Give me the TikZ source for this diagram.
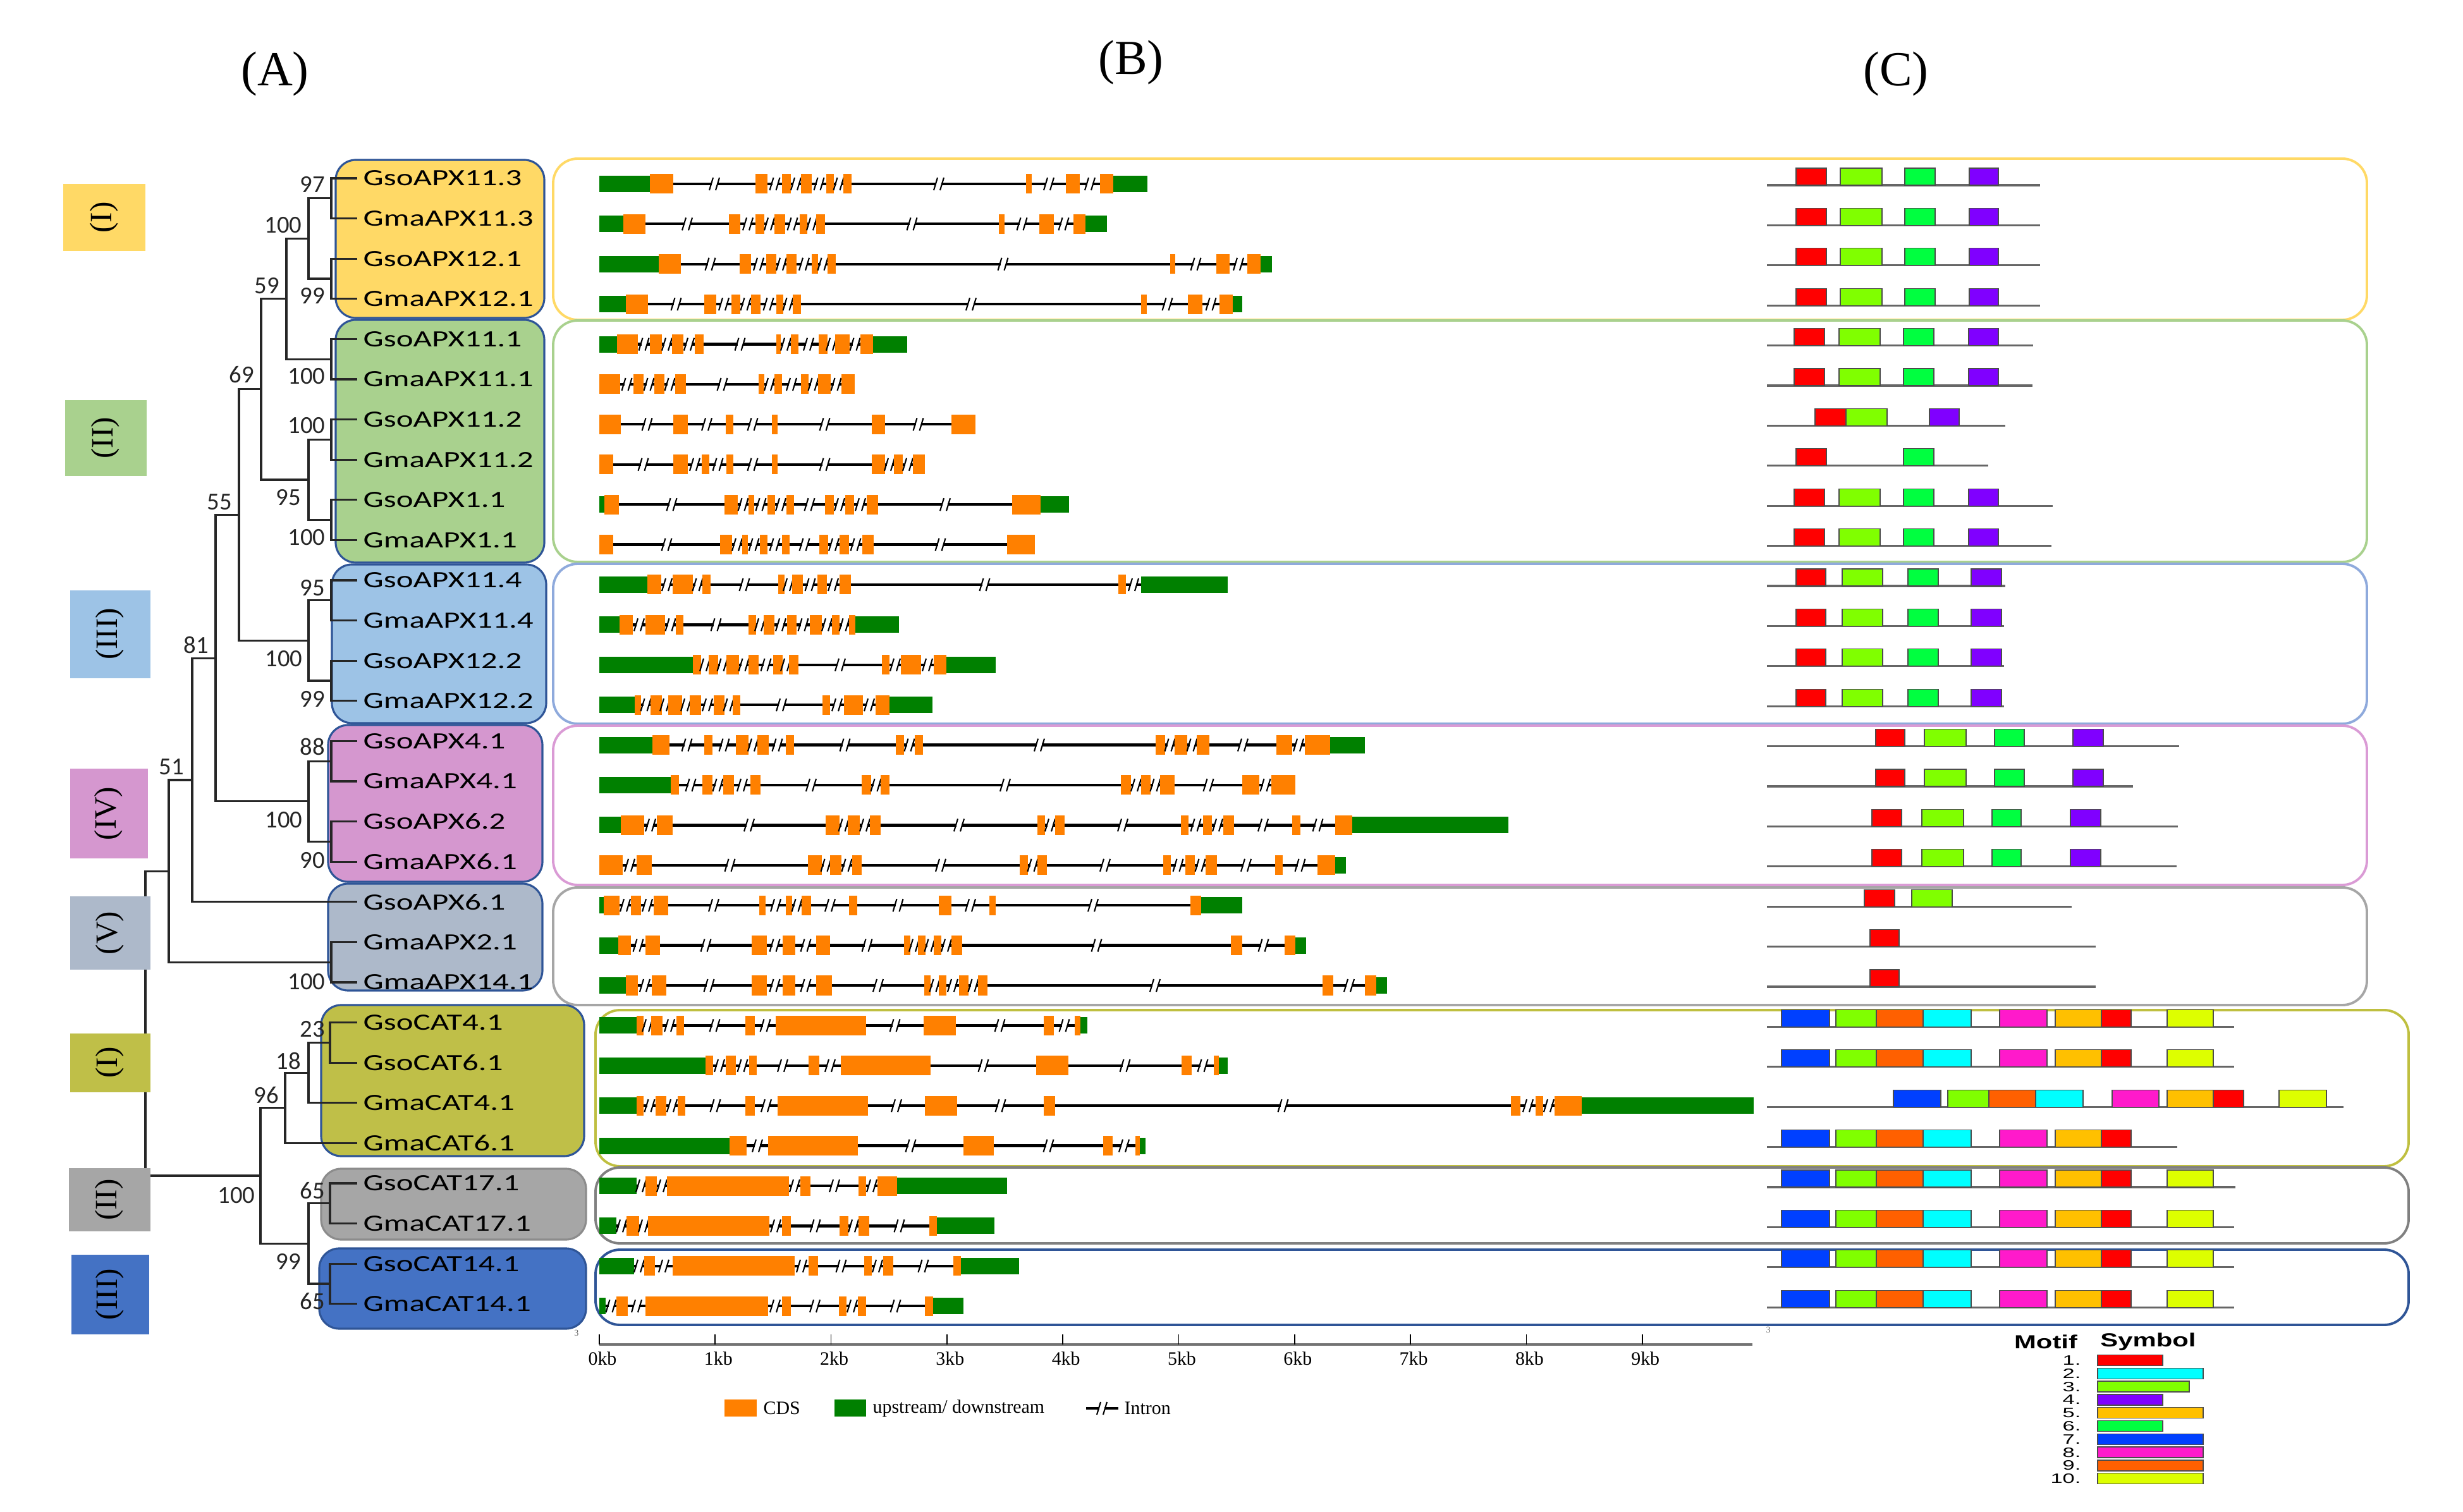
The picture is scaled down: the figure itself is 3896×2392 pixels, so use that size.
\documentclass[tikz,border=0pt]{standalone}
\usepackage{fontspec}
\setmainfont{Liberation Serif}
\newfontfamily\carlito{Carlito}
\newfontfamily\arialfont{Liberation Sans}
\usetikzlibrary{calc}

% clade colours
\definecolor{clyellow}{HTML}{FFD966}
\definecolor{clgreen}{HTML}{A9D18E}
\definecolor{clblue}{HTML}{9DC3E6}
\definecolor{clpink}{HTML}{D597CF}
\definecolor{clslate}{HTML}{ADB9CA}
\definecolor{clolive}{HTML}{BFBF48}
\definecolor{clgray}{HTML}{A6A6A6}
\definecolor{clroyal}{HTML}{4472C4}
\definecolor{boxedge}{HTML}{2F5597}
\definecolor{pnblue}{HTML}{8FAADC}
\definecolor{pnpink}{HTML}{DA9BD5}
\definecolor{pnolive}{HTML}{BFBF40}
\definecolor{cdsorange}{HTML}{FF8000}
\definecolor{utrgreen}{HTML}{008000}
% motif colours
\definecolor{m1}{HTML}{FF0000}
\definecolor{m2}{HTML}{00FFFF}
\definecolor{m3}{HTML}{80FF00}
\definecolor{m4}{HTML}{8000FF}
\definecolor{m5}{HTML}{FFC000}
\definecolor{m6}{HTML}{00FF40}
\definecolor{m7}{HTML}{0040FF}
\definecolor{m8}{HTML}{FF1ACB}
\definecolor{m9}{HTML}{FF6000}
\definecolor{m10}{HTML}{DDFF00}

\tikzset{
  treeline/.style={line width=0.9pt, black!85},
  intron/.style={line width=1.2pt, black},
  slash/.style={line width=0.6pt, black},
  exon c/.style={fill=cdsorange},
  exon u/.style={fill=utrgreen},
  motifline/.style={line width=0.9pt, black!60},
  motifbox/.style={draw=black!70, line width=0.35pt},
  leafname/.style={anchor=west, inner sep=0pt, font=\carlito\fontsize{10.5}{12}\selectfont},
  boot/.style={inner sep=0pt, black!85, font=\carlito\fontsize{11}{13}\selectfont},
  numeral/.style={rotate=90, inner sep=0pt, font=\fontsize{14}{16}\selectfont},
  panel/.style={line width=1.1pt, rounded corners=11pt},
  cladebox/.style={draw=boxedge, line width=0.9pt, rounded corners=9pt},
  small/.style={inner sep=0pt, font=\fontsize{8.5}{10}\selectfont},
}

\def\hgc{15.5}
\def\hgu{13}

% #1 name, #2 x of the fork, #3 upper child, #4 lower child
\newcommand\clade[4]{%
  \coordinate (#1) at ($(#3 -| #2,0)!.5!(#4 -| #2,0)$);
  \draw[treeline] (#3) -| (#1) |- (#4);
}

% intron break mark
\newcommand\intronbreak[2]{%
  \fill[white] (#1-4,#2-4) rectangle (#1+4,#2+4);
  \draw[slash] (#1-8,#2+10) -- (#1-2,#2-10);
  \draw[slash] (#1+2,#2+10) -- (#1+8,#2-10);
}

% #1 row, #2 start/end/kind (c = CDS, u = UTR)
\newcommand\gene[2]{%
  \pgfmathsetmacro\gy{291+63.4*(#1-1)}
  \edef\glist{#2}
  \foreach \s/\e/\k [remember=\e as \pe (initially 0)] in \glist {
    \ifdim\pe pt>0pt
      \ifdim\s pt>\pe pt
        \draw[intron] (\pe,\gy) -- (\s,\gy);
        \pgfmathsetmacro\midx{(\pe+\s)/2}
        \intronbreak{\midx}{\gy}
      \fi
    \fi
    \edef\hh{\csname hg\k\endcsname}
    \fill[exon \k] (\s,\gy-\hh) rectangle (\e,\gy+\hh);
  }
}

% #1 row, #2 end of line, #3 start/end/motif
\newcommand\motifs[3]{%
  \pgfmathsetmacro\my{293+63.4*(#1-1)}
  \draw[motifline] (2795,\my) -- (#2,\my);
  \edef\mlist{#3}
  \foreach \s/\e/\mc in \mlist
    \filldraw[motifbox, fill=m\mc] (\s,\my) rectangle (\e,\my-27);
}

\def\apxA{2841/2889/1, 2911/2977/3, 3013/3061/6, 3115/3161/4}
\def\apxB{2838/2886/1, 2909/2974/3, 3011/3059/6, 3114/3161/4}
\def\apxC{2841/2888/1, 2914/2978/3, 3018/3066/6, 3118/3166/4}
\def\apxD{2967/3013/1, 3044/3110/3, 3155/3202/6, 3279/3327/4}
\def\apxE{2961/3008/1, 3040/3106/3, 3151/3197/6, 3275/3323/4}
\def\catA{2818/2894/7, 2904/2968/3, 2968/3042/9, 3042/3118/2, 3163/3238/8, 3251/3324/5, 3324/3371/1}

\begin{document}
\begin{tikzpicture}[x=0.01cm, y=-0.01cm]
\useasboundingbox (0,0) rectangle (3896,2392);

% titles
\node[font=\fontsize{22}{24}\selectfont] (tA) at (435,117) {(A)};
\node[font=\fontsize{22}{24}\selectfont] (tB) at (1789,99) {(B)};
\node[font=\fontsize{22}{24}\selectfont] (tC) at (2999,117) {(C)};

% outlines round (B) and (C)
\draw[panel, draw=clyellow] (875,251) rectangle (3744,506);
\draw[panel, draw=clgreen] (875,507) rectangle (3744,889);
\draw[panel, draw=pnblue] (875,892) rectangle (3744,1145);
\draw[panel, draw=pnpink] (875,1148) rectangle (3744,1400);
\draw[panel, draw=clgray] (875,1404) rectangle (3744,1590);
\draw[panel, draw=pnolive] (942,1598) rectangle (3810,1845);
\draw[panel, draw=black!50] (942,1847) rectangle (3810,1967);
\draw[panel, draw=boxedge] (942,1977) rectangle (3810,2096);

% clade boxes behind the names
\filldraw[cladebox, fill=clyellow] (531,253) rectangle (861,503);
\filldraw[cladebox, fill=clgreen] (531,506) rectangle (861,890);
\filldraw[cladebox, fill=clblue] (525,893) rectangle (864,1144);
\filldraw[cladebox, fill=clpink] (519,1147) rectangle (858,1395);
\filldraw[cladebox, fill=clslate] (519,1398) rectangle (858,1567);
\filldraw[cladebox, fill=clolive] (508,1590) rectangle (924,1829);
\filldraw[cladebox, fill=clgray, draw=black!45] (508,1849) rectangle (927,1961);
\filldraw[cladebox, fill=clroyal] (505,1975) rectangle (927,2102);

% leaves
\foreach \gname [count=\i] in {GsoAPX11.3, GmaAPX11.3, GsoAPX12.1, GmaAPX12.1,
    GsoAPX11.1, GmaAPX11.1, GsoAPX11.2, GmaAPX11.2, GsoAPX1.1, GmaAPX1.1,
    GsoAPX11.4, GmaAPX11.4, GsoAPX12.2, GmaAPX12.2, GsoAPX4.1, GmaAPX4.1,
    GsoAPX6.2, GmaAPX6.1, GsoAPX6.1, GmaAPX2.1, GmaAPX14.1, GsoCAT4.1,
    GsoCAT6.1, GmaCAT4.1, GmaCAT6.1, GsoCAT17.1, GmaCAT17.1, GsoCAT14.1,
    GmaCAT14.1}{
  \pgfmathsetmacro\ty{282+63.6*(\i-1)}
  \coordinate (t\i) at (565,\ty);
  \node[leafname] (n\i) at (574,\ty) {\scalebox{1.38}[1]{\gname}};
}

% tree
\clade{a1}{524}{t1}{t2}
\clade{a2}{524}{t3}{t4}
\clade{a3}{488}{a1}{a2}
\clade{a4}{524}{t5}{t6}
\clade{a5}{453}{a3}{a4}
\clade{a6}{524}{t7}{t8}
\clade{a7}{524}{t9}{t10}
\clade{a8}{488}{a6}{a7}
\clade{a9}{413}{a5}{a8}
\clade{a10}{524}{t11}{t12}
\clade{a11}{524}{t13}{t14}
\clade{a12}{488}{a10}{a11}
\clade{a13}{378}{a9}{a12}
\clade{a14}{524}{t15}{t16}
\clade{a15}{524}{t17}{t18}
\clade{a16}{488}{a14}{a15}
\clade{a17}{341}{a13}{a16}
\clade{a18}{304}{a17}{t19}
\clade{a19}{524}{t20}{t21}
\clade{a20}{267}{a18}{a19}
\clade{c1}{522}{t22}{t23}
\clade{c2}{488}{c1}{t24}
\clade{c3}{451}{c2}{t25}
\clade{c4}{522}{t26}{t27}
\clade{c5}{522}{t28}{t29}
\clade{c6}{488}{c4}{c5}
\clade{c7}{412}{c3}{c6}
\clade{root}{230}{a20}{c7}

% bootstrap values
\foreach \v/\x/\y [count=\k] in {97/494/292, 100/448/356, 99/494/468, 59/422/452,
    100/485/595, 69/382/593, 100/485/673, 95/456/787, 100/485/850, 55/347/794,
    95/494/930, 100/449/1042, 99/494/1106, 81/310/1020, 88/494/1181,
    100/449/1297, 90/494/1361, 51/271/1213, 100/485/1553, 23/494/1628,
    18/456/1678, 96/421/1733, 100/374/1891, 65/494/1884, 99/456/1996, 65/494/2059}
  \node[boot] (bs\k) at (\x,\y) {\v};

% group labels
\fill[clyellow] (100,291) rectangle (230,397);
\node[numeral] (gA1) at (165,344) {(I)};
\fill[clgreen] (103,633) rectangle (232,753);
\node[numeral] (gA2) at (167,693) {(II)};
\fill[clblue] (111,934) rectangle (238,1073);
\node[numeral] (gA3) at (174,1003) {(III)};
\fill[clpink] (111,1216) rectangle (234,1358);
\node[numeral] (gA4) at (172,1287) {(IV)};
\fill[clslate] (111,1418) rectangle (238,1534);
\node[numeral] (gA5) at (174,1476) {(V)};
\fill[clolive] (111,1635) rectangle (238,1728);
\node[numeral] (gC1) at (174,1681) {(I)};
\fill[clgray] (109,1848) rectangle (238,1948);
\node[numeral] (gC2) at (173,1898) {(II)};
\fill[clroyal] (113,1985) rectangle (236,2111);
\node[numeral] (gC3) at (174,2048) {(III)};

% gene structures
\gene{1}{948/1028/u, 1028/1065/c, 1195/1214/c, 1237/1251/c, 1267/1284/c, 1307/1319/c, 1334/1347/c, 1623/1632/c, 1686/1708/c, 1740/1761/c, 1761/1815/u}
\gene{2}{948/986/u, 986/1021/c, 1153/1171/c, 1195/1209/c, 1225/1242/c, 1265/1277/c, 1291/1305/c, 1580/1589/c, 1644/1667/c, 1698/1717/c, 1717/1751/u}
\gene{3}{948/1042/u, 1042/1077/c, 1170/1188/c, 1212/1228/c, 1244/1260/c, 1284/1294/c, 1309/1322/c, 1851/1859/c, 1924/1945/c, 1973/1994/c, 1994/2012/u}
\gene{4}{948/990/u, 990/1025/c, 1114/1133/c, 1157/1171/c, 1188/1203/c, 1228/1239/c, 1254/1267/c, 1805/1814/c, 1879/1902/c, 1929/1950/c, 1950/1965/u}
\gene{5}{948/976/u, 976/1009/c, 1028/1047/c, 1063/1081/c, 1099/1113/c, 1228/1235/c, 1251/1263/c, 1295/1309/c, 1321/1344/c, 1361/1381/c, 1381/1435/u}
\gene{6}{948/981/c, 1002/1018/c, 1035/1051/c, 1068/1085/c, 1200/1209/c, 1225/1237/c, 1267/1279/c, 1294/1314/c, 1331/1352/c}
\gene{7}{948/982/c, 1065/1088/c, 1148/1160/c, 1221/1230/c, 1379/1400/c, 1505/1543/c}
\gene{8}{948/970/c, 1065/1088/c, 1110/1122/c, 1149/1160/c, 1221/1230/c, 1379/1400/c, 1414/1428/c, 1444/1463/c}
\gene{9}{948/956/u, 956/979/c, 1146/1167/c, 1184/1193/c, 1214/1226/c, 1244/1256/c, 1305/1319/c, 1337/1351/c, 1371/1389/c, 1601/1646/c, 1646/1691/u}
\gene{10}{948/970/c, 1139/1158/c, 1174/1183/c, 1202/1214/c, 1237/1249/c, 1296/1310/c, 1328/1343/c, 1364/1382/c, 1593/1637/c}
\gene{11}{948/1024/u, 1024/1046/c, 1064/1096/c, 1111/1124/c, 1231/1241/c, 1253/1270/c, 1293/1308/c, 1328/1346/c, 1769/1781/c, 1805/1942/u}
\gene{12}{948/980/u, 980/1001/c, 1021/1052/c, 1069/1081/c, 1184/1196/c, 1208/1225/c, 1245/1260/c, 1281/1300/c, 1316/1328/c, 1343/1353/c, 1353/1422/u}
\gene{13}{948/1096/u, 1096/1109/c, 1121/1136/c, 1149/1169/c, 1184/1200/c, 1223/1238/c, 1248/1263/c, 1395/1407/c, 1425/1457/c, 1477/1497/c, 1497/1575/u}
\gene{14}{948/1004/u, 1004/1014/c, 1029/1047/c, 1057/1079/c, 1091/1109/c, 1129/1146/c, 1159/1171/c, 1301/1313/c, 1335/1365/c, 1385/1407/c, 1407/1475/u}
\gene{15}{948/1032/u, 1032/1059/c, 1114/1127/c, 1164/1184/c, 1198/1216/c, 1243/1256/c, 1417/1430/c, 1447/1460/c, 1828/1843/c, 1858/1878/c, 1893/1913/c, 2019/2044/c, 2064/2104/c, 2104/2159/u}
\gene{16}{948/1061/u, 1061/1074/c, 1111/1127/c, 1144/1161/c, 1187/1203/c, 1363/1378/c, 1393/1407/c, 1773/1789/c, 1805/1820/c, 1835/1858/c, 1965/1992/c, 2011/2049/c}
\gene{17}{948/982/u, 982/1019/c, 1039/1064/c, 1306/1328/c, 1341/1360/c, 1376/1393/c, 1641/1653/c, 1669/1684/c, 1868/1880/c, 1903/1917/c, 1935/1952/c, 2044/2057/c, 2112/2139/c, 2139/2386/u}
\gene{18}{948/985/c, 1007/1031/c, 1278/1300/c, 1313/1331/c, 1348/1363/c, 1613/1626/c, 1641/1656/c, 1840/1852/c, 1875/1890/c, 1907/1925/c, 2017/2029/c, 2084/2112/c, 2112/2129/u}
\gene{19}{948/955/u, 955/980/c, 998/1014/c, 1034/1057/c, 1201/1211/c, 1243/1253/c, 1268/1283/c, 1343/1356/c, 1485/1505/c, 1565/1575/c, 1883/1900/c, 1900/1965/u}
\gene{20}{948/978/u, 978/998/c, 1021/1044/c, 1189/1213/c, 1238/1258/c, 1291/1313/c, 1430/1440/c, 1452/1464/c, 1477/1489/c, 1505/1522/c, 1947/1965/c, 2032/2049/c, 2049/2066/u}
\gene{21}{948/990/u, 990/1009/c, 1031/1054/c, 1189/1213/c, 1238/1258/c, 1291/1316/c, 1462/1472/c, 1485/1497/c, 1517/1532/c, 1547/1562/c, 2092/2109/c, 2159/2177/c, 2177/2194/u}
\gene{22}{948/1007/u, 1007/1018/c, 1030/1048/c, 1070/1082/c, 1179/1194/c, 1227/1370/c, 1461/1512/c, 1651/1667/c, 1700/1709/c, 1709/1720/u}
\gene{23}{948/1116/u, 1116/1128/c, 1148/1164/c, 1185/1197/c, 1279/1296/c, 1330/1472/c, 1639/1690/c, 1869/1885/c, 1920/1928/c, 1928/1942/u}
\gene{24}{948/1007/u, 1007/1018/c, 1037/1054/c, 1072/1084/c, 1179/1194/c, 1230/1373/c, 1463/1514/c, 1651/1669/c, 2390/2405/c, 2429/2441/c, 2459/2502/c, 2502/2774/u}
\gene{25}{948/1154/u, 1154/1181/c, 1215/1357/c, 1524/1572/c, 1745/1760/c, 1796/1803/c, 1803/1812/u}
\gene{26}{948/1007/u, 1021/1039/c, 1055/1248/c, 1266/1282/c, 1358/1370/c, 1388/1419/c, 1419/1593/u}
\gene{27}{948/975/u, 991/1011/c, 1025/1217/c, 1237/1251/c, 1328/1342/c, 1358/1375/c, 1470/1482/c, 1482/1573/u}
\gene{28}{948/1003/u, 1019/1036/c, 1064/1257/c, 1279/1294/c, 1367/1379/c, 1397/1413/c, 1508/1520/c, 1520/1612/u}
\gene{29}{948/958/u, 975/993/c, 1021/1215/c, 1237/1251/c, 1327/1339/c, 1357/1370/c, 1463/1476/c, 1476/1524/u}

% scale
\draw[line width=1.2pt, black!55] (948,2127) -- (2772,2127);
\foreach \k in {0,...,9}{
  \pgfmathsetmacro\tx{948+183.3*\k}
  \draw[line width=0.5pt] (\tx,2111) -- (\tx,2127);
  \node[small] (kb\k) at (\tx+5,2149) {\k kb};
}

% legend of (B)
\fill[cdsorange] (1146,2214) rectangle (1197,2241);
\node[small, anchor=west] (lgcds) at (1207,2228) {CDS};
\fill[utrgreen] (1320,2214) rectangle (1370,2241);
\node[small, anchor=west] (lgutr) at (1380,2228) {upstream/ downstream};
\draw[intron] (1718,2228) -- (1769,2228);
\intronbreak{1743}{2228}
\node[small, anchor=west] (lgintron) at (1778,2228) {Intron};

% motifs
\motifs{1}{3227}{\apxA}
\motifs{2}{3227}{\apxA}
\motifs{3}{3227}{\apxA}
\motifs{4}{3227}{\apxA}
\motifs{5}{3216}{\apxB}
\motifs{6}{3215}{\apxB}
\motifs{7}{3172}{2871/2920/1, 2920/2985/3, 3052/3099/4}
\motifs{8}{3145}{2841/2889/1, 3011/3059/6}
\motifs{9}{3247}{\apxB}
\motifs{10}{3245}{\apxB}
\motifs{11}{3172}{\apxC}
\motifs{12}{3170}{\apxC}
\motifs{13}{3170}{\apxC}
\motifs{14}{3170}{\apxC}
\motifs{15}{3447}{\apxD}
\motifs{16}{3374}{\apxD}
\motifs{17}{3445}{\apxE}
\motifs{18}{3443}{\apxE}
\motifs{19}{3277}{2949/2997/1, 3024/3088/3}
\motifs{20}{3315}{2958/3004/1}
\motifs{21}{3315}{2958/3004/1}
\motifs{22}{3534}{\catA, 3428/3501/10}
\motifs{23}{3534}{\catA, 3428/3501/10}
\motifs{24}{3707}{2995/3070/7, 3081/3146/3, 3146/3220/9, 3220/3295/2, 3341/3415/8, 3428/3501/5, 3501/3549/1, 3605/3680/10}
\motifs{25}{3444}{\catA}
\motifs{26}{3536}{\catA, 3428/3501/10}
\motifs{27}{3534}{\catA, 3428/3501/10}
\motifs{28}{3534}{\catA, 3428/3501/10}
\motifs{29}{3534}{\catA, 3428/3501/10}

% legend of (C)
\node[inner sep=0pt, font=\arialfont\bfseries\fontsize{8.5}{10}\selectfont] (lgmotif) at (3236,2123) {\scalebox{1.4}[1]{Motif}};
\node[inner sep=0pt, font=\arialfont\bfseries\fontsize{8.5}{10}\selectfont] (lgsymbol) at (3398,2123) {\scalebox{1.4}[1]{Symbol}};
\foreach \mc/\len [count=\k] in {1/3421, 2/3485, 3/3463, 4/3421, 5/3485, 6/3421, 7/3485, 8/3485, 9/3485, 10/3485}{
  \pgfmathsetmacro\ly{2152+20.8*(\k-1)}
  \filldraw[motifbox, fill=m\mc] (3318,\ly-8.5) rectangle (\len,\ly+8.5);
  \node[inner sep=0pt, anchor=east, font=\arialfont\fontsize{8.5}{8.5}\selectfont] (lgnum\k) at (3292,\ly) {\scalebox{1.15}[0.72]{\k.}};
}

% stray marks
\node[inner sep=0pt, black!60, font=\fontsize{4}{5}\selectfont] (mk1) at (912,2109) {3};
\node[inner sep=0pt, black!60, font=\fontsize{4}{5}\selectfont] (mk2) at (2797,2104) {3};
\end{tikzpicture}
\end{document}
